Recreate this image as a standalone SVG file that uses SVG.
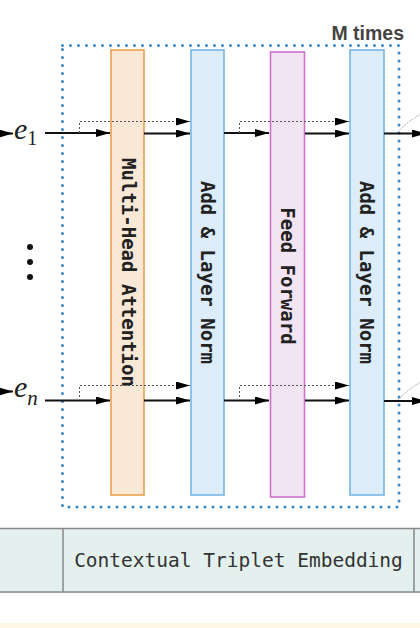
<svg xmlns="http://www.w3.org/2000/svg" width="420" height="628" viewBox="0 0 420 628">
<defs>
<marker id="ah" markerWidth="14" markerHeight="8" refX="14" refY="4" orient="auto" markerUnits="userSpaceOnUse">
<path d="M0,0 L14,4 L0,8 Z" fill="#000"/>
</marker>
<style>
.box{stroke-width:1.6}
.mha{fill:#fae8d6;stroke:#eba04e}
.aln{fill:#dcecf8;stroke:#76b6e6}
.ff{fill:#f3e4f3;stroke:#cc72cc}
.lbl{font-family:"DejaVu Sans Mono","Liberation Mono",monospace;font-weight:bold;font-size:19px;fill:#222;text-anchor:middle}
.main{stroke:#111;stroke-width:2;fill:none}
.skip{stroke:#555;stroke-width:1;stroke-dasharray:2 2;fill:none}
.ev{font-family:"Liberation Serif","DejaVu Serif",serif;font-style:italic;fill:#222}
</style>
</defs>
<rect width="420" height="628" fill="#fff"/>

<g id="mtimes">
<rect x="62.5" y="45.5" width="336.5" height="461.5" fill="none" stroke="#3a88cc" stroke-width="3" stroke-dasharray="0 8" stroke-linecap="round"/>
<text x="404" y="40" font-family="Liberation Sans, Arial, sans-serif" font-weight="bold" font-size="19.5" fill="#444" text-anchor="end">M times</text>
</g>

<g id="mha">
<rect class="box mha" x="111" y="50" width="33" height="445"/>
<text class="lbl" transform="translate(121.5,272.5) rotate(90)">Multi-Head Attention</text>
</g>
<g id="aln1">
<rect class="box aln" x="191" y="50" width="33" height="445"/>
<text class="lbl" transform="translate(201,272.5) rotate(90)">Add &amp; Layer Norm</text>
</g>
<g id="ff">
<rect class="box ff" x="270.5" y="52" width="34" height="445"/>
<text class="lbl" transform="translate(280.5,276) rotate(90)">Feed Forward</text>
</g>
<g id="aln2">
<rect class="box aln" x="350" y="50" width="34" height="445"/>
<text class="lbl" transform="translate(360,272.5) rotate(90)">Add &amp; Layer Norm</text>
</g>

<g id="e1">
<text class="ev" x="14" y="139" font-size="30">e<tspan font-size="20" font-style="normal" dy="6">1</tspan></text>
</g>
<g id="dots">
<circle cx="30" cy="247" r="3" fill="#111"/>
<circle cx="30" cy="262" r="3" fill="#111"/>
<circle cx="30" cy="277" r="3" fill="#111"/>
</g>
<g id="en">
<text class="ev" x="14" y="397" font-size="30">e<tspan font-size="21" dy="8">n</tspan></text>
</g>

<g id="connectors">
<path class="main" d="M-2,133.5 L13,133.5" marker-end="url(#ah)"/>
<path class="main" d="M45,133 L110,133" marker-end="url(#ah)"/>
<path class="main" d="M144,133.5 L190,133.5" marker-end="url(#ah)"/>
<path class="main" d="M224,133 L269,133" marker-end="url(#ah)"/>
<path class="main" d="M305,133.5 L349,133.5" marker-end="url(#ah)"/>
<path class="main" d="M384,133.5 L426,133.5" marker-end="url(#ah)"/>
<path class="skip" d="M79.5,133 L79.5,121.5 L190,121.5" marker-end="url(#ah)"/>
<path class="skip" d="M239.5,133 L239.5,121.5 L349,121.5" marker-end="url(#ah)"/>
<path d="M398,132 Q408,121 421,114" fill="none" stroke="#aaa" stroke-width="1" stroke-dasharray="2 1"/>

<path class="main" d="M-2,391.5 L13,391.5" marker-end="url(#ah)"/>
<path class="main" d="M45,400.5 L110,400.5" marker-end="url(#ah)"/>
<path class="main" d="M144,400.5 L190,400.5" marker-end="url(#ah)"/>
<path class="main" d="M224,400.5 L269,400.5" marker-end="url(#ah)"/>
<path class="main" d="M305,400.5 L349,400.5" marker-end="url(#ah)"/>
<path class="main" d="M384,401 L426,401" marker-end="url(#ah)"/>
<path class="skip" d="M79.5,397 L79.5,385.5 L190,385.5" marker-end="url(#ah)"/>
<path class="skip" d="M239.5,397 L239.5,385.5 L349,385.5" marker-end="url(#ah)"/>
<path d="M398,400 Q408,389 421,382" fill="none" stroke="#aaa" stroke-width="1" stroke-dasharray="2 1"/>
</g>

<g id="embedding">
<rect x="-2" y="528.5" width="424" height="63.5" fill="#e4f0ee" stroke="#888" stroke-width="1.5"/>
<line x1="63" y1="528.5" x2="63" y2="592" stroke="#888" stroke-width="1.5"/>
<line x1="414" y1="528.5" x2="414" y2="592" stroke="#888" stroke-width="1.5"/>
<text x="238.5" y="567" font-family="DejaVu Sans Mono, Liberation Mono, monospace" font-size="19.5" fill="#333" text-anchor="middle">Contextual Triplet Embedding</text>
</g>
<rect x="0" y="623" width="420" height="5" fill="#fdf6e4"/>
</svg>
